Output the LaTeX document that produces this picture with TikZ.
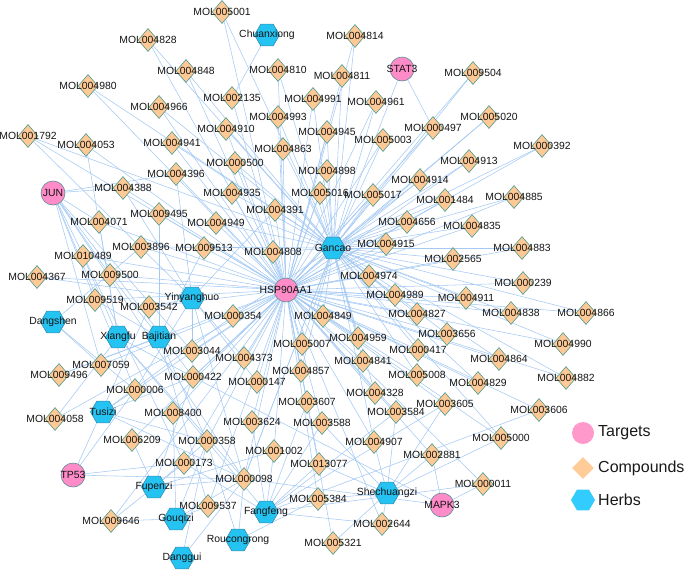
\documentclass[tikz,border=0pt]{standalone}
\usepackage{fontspec}
\setmainfont{Liberation Sans}
\usetikzlibrary{shapes.geometric}
\pgfdeclarelayer{background}
\pgfsetlayers{background,main}
\definecolor{edgec}{HTML}{A4C9F3}
\definecolor{compf}{HTML}{FFC996}
\definecolor{compd}{HTML}{4F9A8C}
\definecolor{herbf}{HTML}{25C3F2}
\definecolor{herbd}{HTML}{3A8DAE}
\definecolor{targf}{HTML}{FF8CC8}
\definecolor{targd}{HTML}{5A8E96}
\definecolor{legt}{HTML}{FF99CC}
\definecolor{legc}{HTML}{FFCC99}
\definecolor{legh}{HTML}{33CCFF}
\tikzset{
  comp/.style={diamond,draw=compd,fill=compf,line width=0.6pt,minimum width=20pt,minimum height=23pt,inner sep=0pt},
  herb/.style={regular polygon,regular polygon sides=6,draw=herbd,fill=herbf,line width=0.6pt,minimum size=25pt,inner sep=0pt},
  targ/.style={circle,draw=targd,fill=targf,line width=0.6pt,minimum size=24pt,inner sep=0pt},
  lab/.style={font=\fontsize{10.4}{12}\selectfont,text=black!92,inner sep=0pt},
  edge/.style={draw=edgec,line width=0.55pt},
  legtxt/.style={font=\fontsize{16}{19}\selectfont,text=black!90,anchor=west,inner sep=0pt}
}
\def\complist{MOL005001/222/12,MOL004828/148/40,MOL004814/355/36,MOL004848/186/71,MOL004810/278/70,MOL004811/342/76,MOL004980/88/86,MOL002135/232/98,MOL004991/313/99,MOL004961/376/102,MOL009504/473/73,MOL004966/159/107,MOL004993/278/117,MOL005020/489/117,MOL004910/226/129,MOL000497/433/128,MOL004945/327/132,MOL001792/28/136,MOL005003/383/140,MOL004941/172/143,MOL004053/86/145,MOL000392/542/146,MOL004863/283/149,MOL004913/469/161,MOL000500/235/163,MOL004898/327/171,MOL004396/176/174,MOL004914/420/180,MOL004388/123/188,MOL004935/232/193,MOL005016/320/193,MOL005017/373/195,MOL004885/514/197,MOL001484/445/200,MOL004391/275/210,MOL009495/159/214,MOL004071/99/222,MOL004949/216/223,MOL004656/407/222,MOL004835/472/226,MOL004915/386/244,MOL003896/141/247,MOL009513/204/248,MOL004883/522/248,MOL004808/273/252,MOL010489/83/256,MOL002565/453/259,MOL009500/110/275,MOL004974/369/276,MOL004367/37/277,MOL000239/523/283,MOL004989/395/295,MOL004911/466/298,MOL009519/95/300,MOL003542/149/307,MOL004838/511/313,MOL004866/586/313,MOL004827/417/314,MOL000354/233/316,MOL004849/323/316,MOL003656/447/334,MOL004959/358/338,MOL004990/563/344,MOL005007/302/344,MOL000417/418/350,MOL003044/192/351,MOL004373/244/358,MOL004864/499/359,MOL004841/363/361,MOL007059/101/365,MOL004857/301/371,MOL009496/59/375,MOL005008/417/375,MOL000422/193/377,MOL004882/566/378,MOL000147/257/382,MOL004829/478/383,MOL000006/135/390,MOL004328/375/393,MOL003607/307/402,MOL003605/445/404,MOL003606/539/410,MOL003584/396/412,MOL008400/173/413,MOL004058/55/419,MOL003624/252/422,MOL003588/322/423,MOL005000/501/438,MOL006209/132/440,MOL000358/207/441,MOL004907/374/442,MOL001002/274/451,MOL002881/432/455,MOL000173/184/463,MOL013077/319/464,MOL000098/244/479,MOL000011/483/484,MOL005384/318/499,MOL009537/208/506,MOL009646/111/521,MOL002644/382/524,MOL005321/333/543}
\begin{document}
\begin{tikzpicture}[x=1pt,y=-1pt]
\useasboundingbox (0,0) rectangle (685,571);
% compounds
\foreach \c/\x/\y in \complist {\node[comp,label={[lab]center:\c}] (\c) at (\x,\y) {};}
% herbs
\foreach \c/\x/\y in {Chuanxiong/267/35,Gancao/333/248,Yinyanghuo/192/298,Dangshen/53/322,Xiangfu/118/337,Bajitian/159/337,Tusizi/103/412,Fupenzi/154/487,Shechuangzi/387/493,Fangfeng/266/512,Gouqizi/176/519,Roucongrong/238/540,Danggui/182/558}
  {\node[herb,label={[lab]center:\c}] (\c) at (\x,\y) {};}
% targets
\foreach \c/\x/\y in {STAT3/402/69,JUN/53/193,HSP90AA1/286/290,TP53/73/475,MAPK3/442/505}
  {\node[targ,label={[lab]center:\c}] (\c) at (\x,\y) {};}
\begin{pgfonlayer}{background}
\foreach \c/\x/\y in \complist {\draw[edge] (HSP90AA1) -- (\c);}
\foreach \c in {MOL005001,MOL004828,MOL004814,MOL004848,MOL004810,MOL004811,MOL004980,MOL004991,MOL004961,MOL009504,MOL004966,MOL004993,MOL005020,MOL004910,MOL000497,MOL004945,MOL001792,MOL005003,MOL004941,MOL000392,MOL004863,MOL004913,MOL000500,MOL004898,MOL004914,MOL004935,MOL005016,MOL005017,MOL004885,MOL001484,MOL004949,MOL004656,MOL004835,MOL004915,MOL003896,MOL004883,MOL004808,MOL002565,MOL004974,MOL000239,MOL004989,MOL004911,MOL004838,MOL004866,MOL004827,MOL000354,MOL004849,MOL003656,MOL004959,MOL004990,MOL005007,MOL000417,MOL004864,MOL004841,MOL004857,MOL005008,MOL000422,MOL004882,MOL004829,MOL004328,MOL004907,MOL005000,MOL000098}
  {\draw[edge] (Gancao) -- (\c);}
\foreach \c in {MOL001792,MOL003044,MOL003542,MOL004367,MOL004373,MOL004388,MOL004391,MOL004396,MOL000006,MOL000098,MOL000422,MOL000147}
  {\draw[edge] (Yinyanghuo) -- (\c);}
\foreach \c in {MOL009495,MOL009500,MOL009513,MOL009519,MOL009537,MOL000358,MOL009496}
  {\draw[edge] (Bajitian) -- (\c);}
\foreach \c in {MOL004053,MOL004058,MOL004071,MOL010489,MOL000098,MOL000358,MOL000422}
  {\draw[edge] (Xiangfu) -- (\c);}
\foreach \c in {MOL000006,MOL007059,MOL003896}
  {\draw[edge] (Dangshen) -- (\c);}
\foreach \c in {MOL000098,MOL000354,MOL000358,MOL000422,MOL000006}
  {\draw[edge] (Tusizi) -- (\c);}
\foreach \c in {MOL006209,MOL009646,MOL001002,MOL000358,MOL000422,MOL000098,MOL000173}
  {\draw[edge] (Fupenzi) -- (\c);}
\foreach \c in {MOL000358,MOL008400,MOL009646,MOL000098,MOL009537}
  {\draw[edge] (Gouqizi) -- (\c);}
\foreach \c in {MOL000358,MOL000098}
  {\draw[edge] (Danggui) -- (\c);}
\foreach \c in {MOL005384,MOL000358,MOL000098}
  {\draw[edge] (Roucongrong) -- (\c);}
\foreach \c in {MOL000011,MOL000173,MOL000358,MOL002644,MOL003588,MOL003607,MOL003605,MOL003606,MOL003624,MOL013077,MOL003584,MOL001002}
  {\draw[edge] (Fangfeng) -- (\c);}
\foreach \c in {MOL002881,MOL003584,MOL004907,MOL005000,MOL002644,MOL005321,MOL013077,MOL005384,MOL003605,MOL003588}
  {\draw[edge] (Shechuangzi) -- (\c);}
\foreach \c in {MOL002135}
  {\draw[edge] (Chuanxiong) -- (\c);}
\foreach \c in {MOL004388,MOL004396,MOL000006,MOL000422,MOL000098,MOL003044,MOL007059,MOL000173,MOL009500,MOL009519,MOL004071}
  {\draw[edge] (JUN) -- (\c);}
\foreach \c in {MOL000497,MOL000098}
  {\draw[edge] (STAT3) -- (\c);}
\foreach \c in {MOL000006,MOL000098,MOL000173,MOL003542}
  {\draw[edge] (TP53) -- (\c);}
\foreach \c in {MOL000011,MOL002881,MOL000098,MOL000422}
  {\draw[edge] (MAPK3) -- (\c);}
\end{pgfonlayer}
% legend
\node[circle,fill=legt,minimum size=22pt,inner sep=0pt] (legT) at (583,433) {};
\node[legtxt] (legTt) at (598,433) {Targets};
\node[diamond,fill=legc,minimum width=22pt,minimum height=22pt,inner sep=0pt] (legC) at (583,468) {};
\node[legtxt] (legCt) at (598,468) {Compounds};
\node[regular polygon,regular polygon sides=6,fill=legh,minimum size=24pt,inner sep=0pt] (legH) at (583,500) {};
\node[legtxt] (legHt) at (598,500) {Herbs};
\end{tikzpicture}
\end{document}
